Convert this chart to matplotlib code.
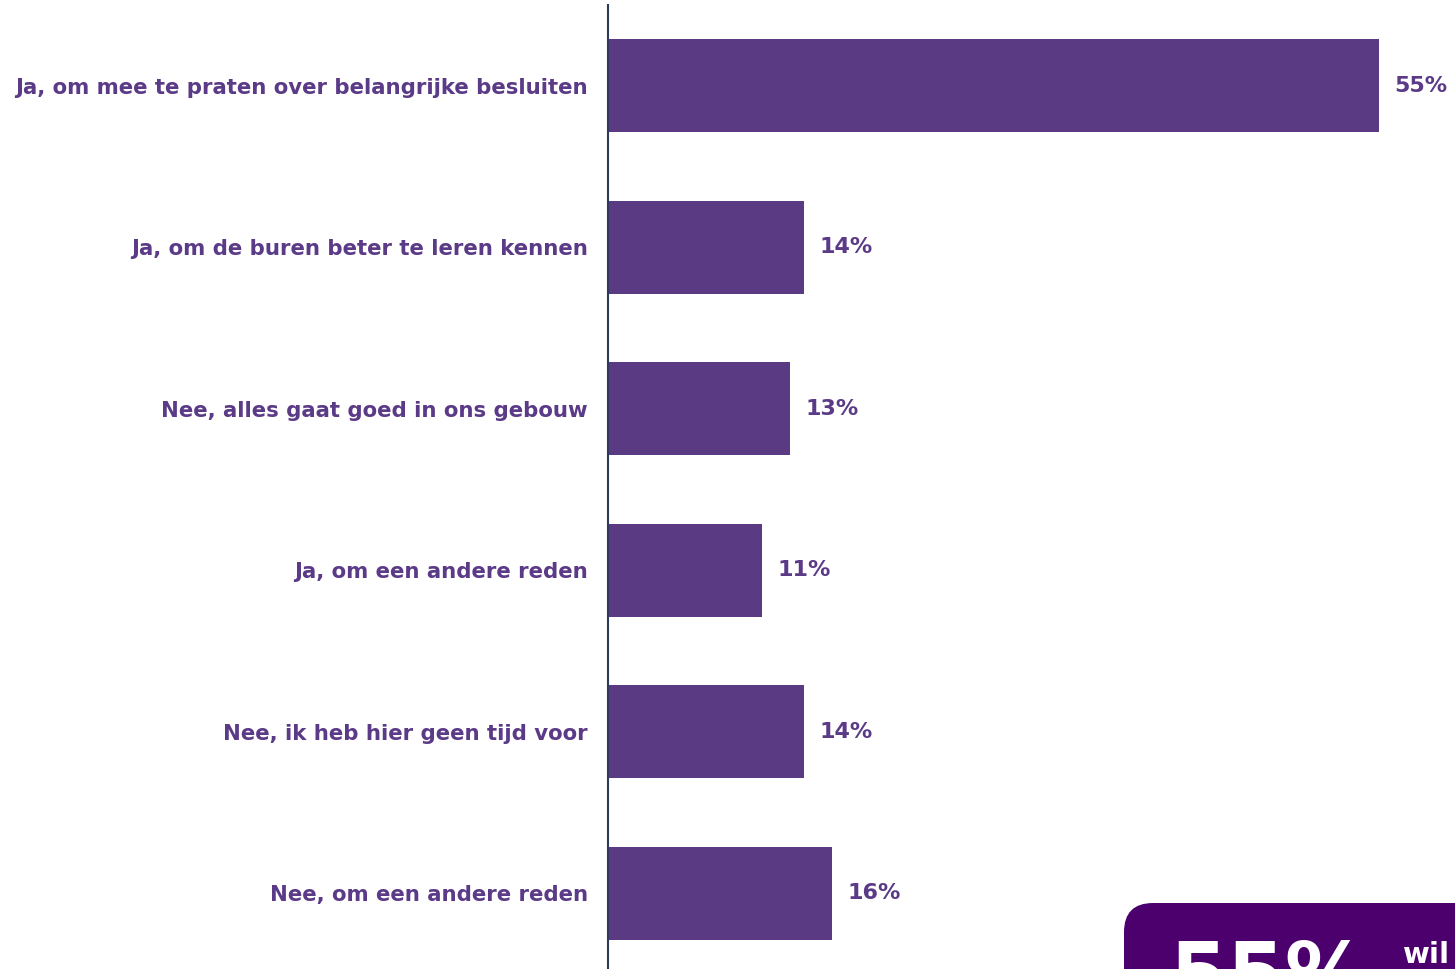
import matplotlib.pyplot as plt
from matplotlib.patches import FancyBboxPatch

# survey answers and shares (%)
categories = [
    "Ja, om mee te praten over belangrijke besluiten",
    "Ja, om de buren beter te leren kennen",
    "Nee, alles gaat goed in ons gebouw",
    "Ja, om een andere reden",
    "Nee, ik heb hier geen tijd voor",
    "Nee, om een andere reden",
]
values = [55, 14, 13, 11, 14, 16]
highlight_value = "55%"
highlight_text = "wil"

bar_color = "#5B3A84"
text_color = "#5B3A87"
box_color = "#4B006E"

W, H = 1455, 969
fig = plt.figure(figsize=(W / 100, H / 100), dpi=100)
ax = fig.add_axes([608 / W, 0, 1 - 608 / W, 1 - 5 / H])

pos = list(range(len(categories)))
ax.barh(pos, values, height=0.576, color=bar_color)
ax.set_xlim(0, 60.4)
ax.set_ylim(5.47, -0.5)

for p, v in zip(pos, values):
    ax.text(v + 1.1, p, f"{v}%", va="center", ha="left", fontsize=16,
            fontweight="bold", color=text_color)

ax.set_yticks(pos)
ax.set_yticklabels(categories, fontsize=15.3, fontweight="bold", color=text_color)
ax.tick_params(axis="y", length=0, pad=14.5)
ax.set_xticks([])
for s in ["top", "right", "bottom"]:
    ax.spines[s].set_visible(False)
ax.spines["left"].set_color("#2E3B5E")
ax.spines["left"].set_linewidth(1.5)

# callout box in the lower right corner
box = FancyBboxPatch((1124 / W, -0.2), 0.4, 0.2 + (H - 903) / H,
                     boxstyle="round,pad=0,rounding_size=0.02",
                     transform=fig.transFigure, facecolor=box_color,
                     edgecolor="none", mutation_aspect=W / H)
fig.patches.append(box)
fig.text(1170 / W, -0.035, highlight_value, fontsize=60, fontweight="bold",
         color="white", ha="left", va="baseline")
fig.text(1403 / W, 6 / H, highlight_text, fontsize=21, fontweight="bold",
         color="white", ha="left", va="baseline")

fig.savefig("out.png", dpi=100)
